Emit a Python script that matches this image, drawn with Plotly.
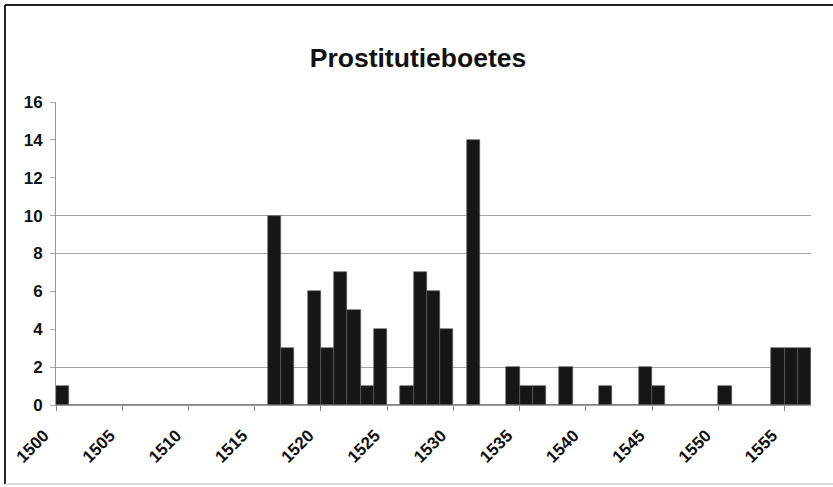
import plotly.graph_objects as go

# Data
years = list(range(1500, 1557))
counts_by_year = {
    1500: 1,
    1516: 10, 1517: 3,
    1519: 6, 1520: 3, 1521: 7, 1522: 5, 1523: 1, 1524: 4,
    1526: 1, 1527: 7, 1528: 6, 1529: 4,
    1531: 14,
    1534: 2, 1535: 1, 1536: 1,
    1538: 2,
    1541: 1,
    1544: 2, 1545: 1,
    1550: 1,
    1554: 3, 1555: 3, 1556: 3,
}
counts = [counts_by_year.get(y, 0) for y in years]
x_tick_vals = list(range(1500, 1560, 5))
x_tick_text = [str(v) for v in x_tick_vals]
y_tick_vals = list(range(0, 17, 2))
grid_vals = [2, 8, 10, 16]

W, H = 833, 487
L, R, T, B = 56, 22, 102, 82
pw, ph = W - L - R, H - T - B

def px_x(px):
    return (px - L) / pw

def px_y(py):
    return (H - B - py) / ph

fig = go.Figure()
fig.add_trace(go.Bar(
    x=[y + 0.5 for y in years],
    y=counts,
    width=1.0,
    marker=dict(color="#161616", line=dict(color="#5a5a5a", width=0.6)),
    hoverinfo="x+y",
))
# invisible trace for overlay grid axis
fig.add_trace(go.Scatter(x=[years[0]], y=[0], yaxis="y2", mode="markers",
                         marker=dict(opacity=0), showlegend=False, hoverinfo="skip"))

font_family = "Liberation Sans, Arial, sans-serif"

fig.update_layout(
    width=W, height=H,
    margin=dict(l=L, r=R, t=T, b=B),
    paper_bgcolor="white",
    plot_bgcolor="white",
    showlegend=False,
    bargap=0,
    title=dict(
        text="<b>Prostitutieboetes</b>",
        x=418 / W, xanchor="center", xref="container",
        y=1 - 58 / H, yanchor="middle", yref="container",
        font=dict(family=font_family, size=26.5, color="#111"),
    ),
    xaxis=dict(
        range=[1500, 1557],
        tickmode="array", tickvals=x_tick_vals, ticktext=x_tick_text,
        tickangle=-45,
        ticks="outside", ticklen=5, tickcolor="#888",
        ticklabelstandoff=8, ticklabelshift=-12,
        showline=True, linecolor="#999", linewidth=1,
        showgrid=False, zeroline=False,
        tickfont=dict(family=font_family, size=17, color="#111", weight=700),
    ),
    yaxis=dict(
        range=[0, 16],
        tickmode="array", tickvals=y_tick_vals,
        ticks="outside", ticklen=5, tickcolor="#aaa",
        ticklabelstandoff=4,
        showline=True, linecolor="#999", linewidth=1,
        showgrid=False, zeroline=False,
        tickfont=dict(family=font_family, size=17, color="#111", weight=700),
    ),
    yaxis2=dict(
        range=[0, 16], overlaying="y", side="left",
        tickmode="array", tickvals=grid_vals,
        showticklabels=False, ticks="",
        showgrid=True, gridcolor="#a5a5a5", gridwidth=1,
        zeroline=False, showline=False, layer="below traces",
    ),
    shapes=[
        dict(type="line", xref="paper", yref="paper",
             x0=px_x(5), x1=px_x(840), y0=px_y(5), y1=px_y(5),
             line=dict(color="#222", width=2)),
        dict(type="line", xref="paper", yref="paper",
             x0=px_x(5), x1=px_x(5), y0=px_y(5), y1=px_y(484),
             line=dict(color="#222", width=2)),
        dict(type="line", xref="paper", yref="paper",
             x0=px_x(5), x1=px_x(840), y0=px_y(484), y1=px_y(484),
             line=dict(color="#bbb", width=1)),
    ],
)

fig.write_html(
    "out.html",
    config={"displayModeBar": False},
    post_script="document.body.style.margin='0';document.body.style.overflow='hidden';",
)
